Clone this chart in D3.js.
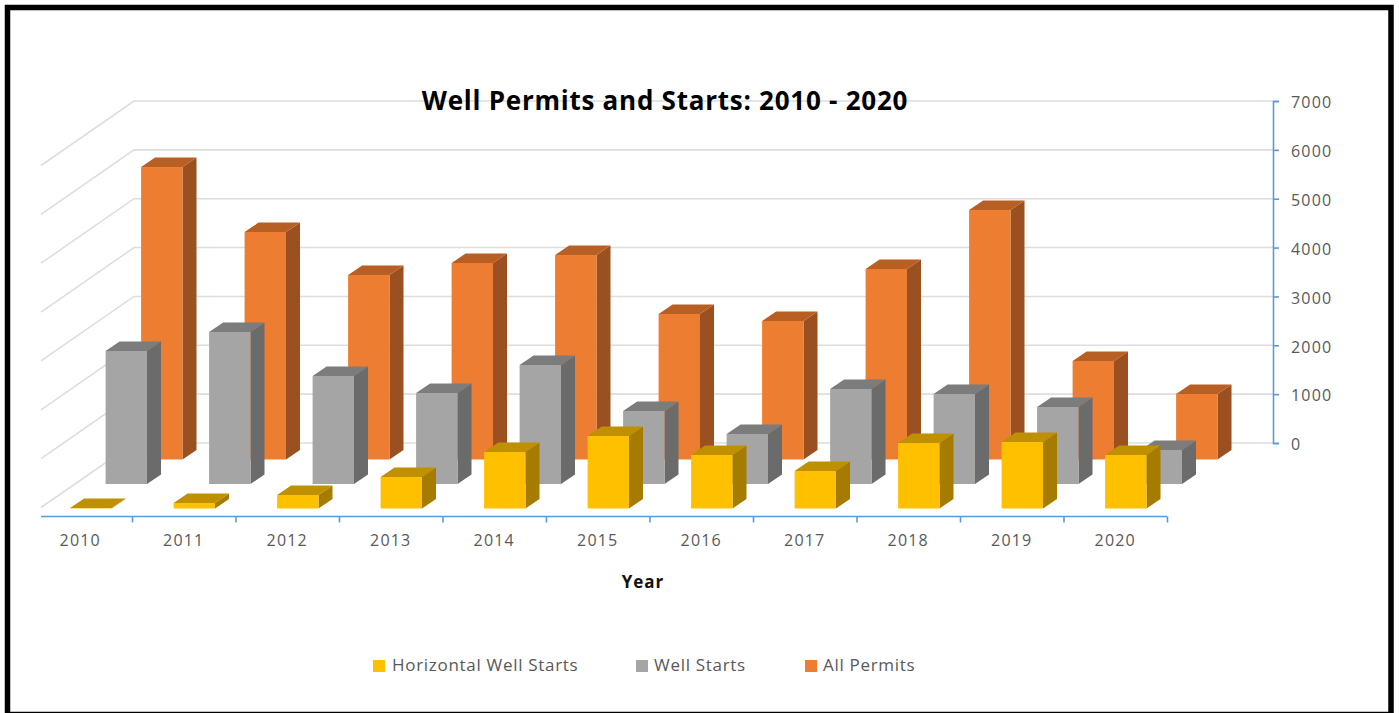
<!DOCTYPE html>
<html>
<head>
<meta charset="utf-8">
<script src="https://cdnjs.cloudflare.com/ajax/libs/d3/7.8.5/d3.min.js"></script>
<style>
  html, body { margin: 0; padding: 0; background: #fff; overflow: hidden; }
  svg { display: block; }
  text { font-family: "Open Sans", sans-serif; }
</style>
</head>
<body>
<svg id="chart" width="1399" height="713"></svg>
<script>
// Well permits and starts per year
const years = [2010, 2011, 2012, 2013, 2014, 2015, 2016, 2017, 2018, 2019, 2020];
const horizontalStarts = [10, 113, 276, 645, 1156, 1484, 1095, 767, 1340, 1361, 1095];
const wellStarts = [2722, 3111, 2210, 1862, 2435, 1494, 1023, 1944, 1842, 1576, 696];
const allPermits = [5986, 4656, 3776, 4022, 4185, 2978, 2835, 3899, 5106, 2016, 1340];
const valueTicks = [0, 1000, 2000, 3000, 4000, 5000, 6000, 7000];
const seriesNames = ["Horizontal Well Starts", "Well Starts", "All Permits"];
const seriesValues = [horizontalStarts, wellStarts, allPermits];
const faceColors = ["#FFC000", "#A5A5A5", "#ED7D31"];
const sideColors = ["#A67C00", "#6B6B6B", "#9A5020"];
const topColors = ["#BF9000", "#7C7C7C", "#B85F24"];

const svg = d3.select("#chart");

// Horizontal scales: one slot per year, and the bar inside its slot
const slot = d3.scaleBand().domain(years).range([28.5, 1167]);
const barBand = d3.scaleBand().domain(years).range([28.5, 1167])
  .paddingInner(0.6).paddingOuter(0.3).align(0.67);
const yearEdge = d3.scaleLinear().domain([2010, 2021]).range([28.5, 1167]);

// Height of a value above the floor, measured on the back wall
const wallY = d3.scaleLinear().domain([0, 7000]).range([443, 101]);
const barHeight = v => wallY(0) - wallY(v);

// Oblique depth: each series sits further back along the floor
const depthX = d3.scaleLinear().domain([0, 1]).range([0, 35.5]);
const depthY = d3.scaleLinear().domain([0, 1]).range([508.5, 484]);
const cap = { dx: 14, dy: -9.5 };

// Outer frame
svg.append("rect").attr("x", 7.5).attr("y", 7.5).attr("width", 1383.5).attr("height", 707)
  .attr("fill", "#fff").attr("stroke", "#000").attr("stroke-width", 5.5);

// Back wall and left wall gridlines
const wallLeft = 134, wallRight = 1273, wallEnd = 41, wallDrop = 64.5;
const grid = svg.append("g").attr("fill", "none").attr("stroke", "#DDDDDD").attr("stroke-width", 1.6);
grid.selectAll("path").data(valueTicks).join("path")
  .attr("d", t => d3.line()([
    [wallEnd, wallY(t) + wallDrop],
    [wallLeft, wallY(t)],
    [wallRight, wallY(t)]
  ]));

// Value axis on the right
const rightAxis = svg.append("g").attr("transform", `translate(${wallRight},0)`)
  .call(d3.axisRight(wallY).tickValues(valueTicks).tickFormat(d3.format("d")).tickSizeOuter(0).tickSize(6).tickPadding(12));
rightAxis.select(".domain").attr("stroke", "#5B9BD5").attr("stroke-width", 1.6);
rightAxis.selectAll(".tick line").attr("stroke", "#5B9BD5").attr("stroke-width", 1.6);
rightAxis.selectAll(".tick text").attr("fill", "#595959").attr("dy", "0.42em")
  .style("font-size", "16px").style("letter-spacing", "1.2px").style("font-family", '"Open Sans", sans-serif');

// Bars, back series first so the nearer ones overlap them
d3.range(seriesValues.length - 1, -1, -1).forEach(s => {
  const series = svg.append("g");
  const baseY = depthY(s);
  const rows = years.map((year, i) => ({ year, value: seriesValues[s][i] }));
  const w = barBand.bandwidth();
  const left = d => barBand(d.year) + depthX(s);
  const top = d => baseY - barHeight(d.value);

  const bar = series.selectAll("g").data(rows).join("g");
  bar.append("path").attr("fill", sideColors[s])
    .attr("d", d => d3.line()([
      [left(d) + w, top(d)],
      [left(d) + w + cap.dx, top(d) + cap.dy],
      [left(d) + w + cap.dx, baseY + cap.dy],
      [left(d) + w, baseY]
    ]) + "Z");
  bar.append("path").attr("fill", topColors[s])
    .attr("d", d => d3.line()([
      [left(d), top(d)],
      [left(d) + cap.dx, top(d) + cap.dy],
      [left(d) + w + cap.dx, top(d) + cap.dy],
      [left(d) + w, top(d)]
    ]) + "Z");
  bar.append("rect").attr("fill", faceColors[s])
    .attr("x", left).attr("y", top)
    .attr("width", w).attr("height", d => barHeight(d.value));
});

// Category axis along the front of the floor
const baseAxisY = 516.5;
const bottomAxis = svg.append("g").attr("transform", `translate(0,${baseAxisY})`)
  .call(d3.axisBottom(yearEdge).tickValues(d3.range(2011, 2022)).tickFormat("").tickSize(6).tickSizeOuter(0));
bottomAxis.select(".domain").remove();
bottomAxis.selectAll(".tick line").attr("stroke", "#5B9BD5").attr("stroke-width", 1.6);
bottomAxis.append("line").attr("x1", wallEnd).attr("x2", yearEdge.range()[1])
  .attr("stroke", "#5B9BD5").attr("stroke-width", 1.6);

svg.append("g").selectAll("text").data(years).join("text")
  .attr("x", d => slot(d) + slot.bandwidth() / 2)
  .attr("y", 546)
  .attr("text-anchor", "middle")
  .attr("fill", "#595959")
  .style("font-size", "16px")
  .style("letter-spacing", "1.2px")
  .text(d => d);

// Title and axis title
svg.append("text").attr("x", 665).attr("y", 110).attr("text-anchor", "middle")
  .attr("fill", "#000").style("font-size", "26px").style("font-weight", 700)
  .style("letter-spacing", "0.75px")
  .text("Well Permits and Starts: 2010 - 2020");
svg.append("text").attr("x", 643).attr("y", 588).attr("text-anchor", "middle")
  .attr("fill", "#111").style("font-size", "17px").style("font-weight", 700)
  .style("letter-spacing", "1px")
  .text("Year");

// Legend
const legendX = [373, 636, 805];
const legend = svg.append("g").selectAll("g").data(seriesNames).join("g")
  .attr("transform", (d, i) => `translate(${legendX[i]},660)`);
legend.append("rect").attr("width", 12).attr("height", 12)
  .attr("fill", (d, i) => faceColors[i]);
legend.append("text").attr("x", (d, i) => i === 0 ? 19 : 18).attr("y", 11)
  .attr("fill", "#595959").style("font-size", "17px").style("letter-spacing", "0.7px")
  .text(d => d);
</script>
</body>
</html>
